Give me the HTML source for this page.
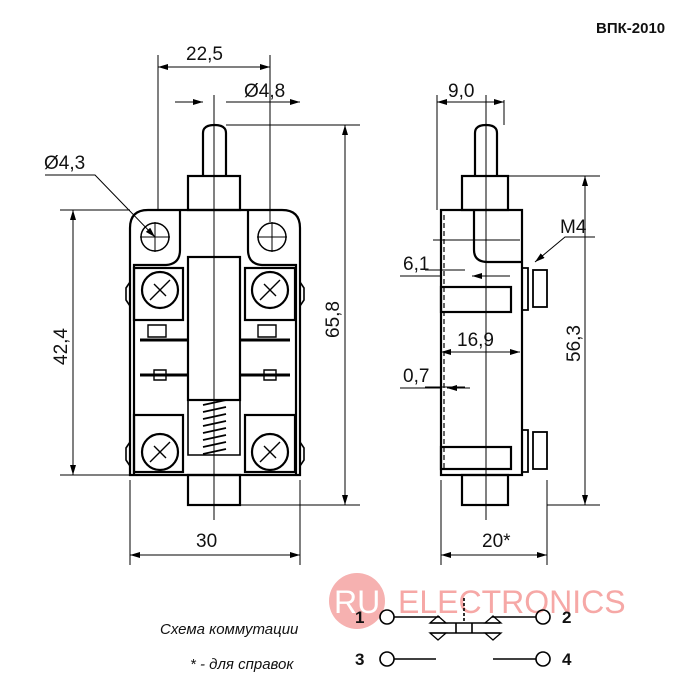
<!DOCTYPE html>
<html><head><meta charset="utf-8"><style>
body{margin:0;background:#fff}
svg{display:block}
text{font-family:"Liberation Sans",sans-serif;fill:#111}
</style></head><body>
<svg width="700" height="700" viewBox="0 0 700 700" xmlns="http://www.w3.org/2000/svg">
<defs>
<marker id="a" viewBox="0 0 10 6" refX="10" refY="3" markerWidth="10" markerHeight="6" orient="auto-start-reverse"><path d="M0,0L10,3L0,6z" fill="#000"/></marker>
</defs>
<text x="596" y="33" font-size="15" font-weight="bold">ВПК-2010</text>

<!-- watermark -->
<circle cx="357" cy="601" r="28" fill="#f6b1b0"/>
<text x="334" y="613" font-size="32" style="fill:#fff">RU</text>
<text x="398" y="613" font-size="32" style="fill:#f6a8a6">ELECTRONICS</text>

<g stroke="#000" fill="none" stroke-width="2.2">
<!-- FRONT VIEW -->
<path d="M203,176V133q0-8 11.5-8q11.5 0 11.5 8V176"/>
<rect x="188" y="176" width="52" height="34"/>
<path d="M130,475V228q0-18 18-18H282q18 0 18 18V475Z"/>
<path d="M180,210V250q0 14-14 15H134V475M248,210V250q0 14 14 15H296V475"/>
<rect x="188" y="257" width="52" height="143"/>
<rect x="134" y="268" width="49" height="52"/>
<rect x="245" y="268" width="50" height="52"/>
<rect x="134" y="415" width="49" height="57"/>
<rect x="245" y="415" width="50" height="57"/>
<circle cx="160" cy="290" r="18"/><circle cx="270" cy="290" r="18"/>
<circle cx="160" cy="452" r="18"/><circle cx="270" cy="452" r="18"/>
<path d="M150,300L170,280M260,300L280,280M150,462L170,442M260,462L280,442" stroke-width="1.4"/>
<path d="M154,284L166,296M264,284L276,296M154,446L166,458M264,446L276,458" stroke-width="1.4"/>
<path d="M140,340H188M240,340H290M140,375H188M240,375H290" stroke-width="3"/>
<path d="M148,325h18v12h-18zM258,325h18v12h-18zM154,370h12v10h-12zM264,370h12v10h-12z" stroke-width="1.4"/>
<path d="M126,288l4,-6v24l-4,-6zM304,288l-4,-6v24l4,-6zM126,448l4,-6v24l-4,-6zM304,448l-4,-6v24l4,-6z" stroke-width="1.6"/>
<path d="M188,400V455H240V400" stroke-width="1.6"/>
<path d="M203,405l23,-5M203,412l23,-5M203,419l23,-5M203,426l23,-5M203,433l23,-5M203,440l23,-5M203,447l23,-5M203,454l23,-5" stroke-width="1.8"/>
<rect x="188" y="475" width="52" height="30"/>
<circle cx="155" cy="237" r="14" stroke-width="1.5"/><circle cx="272" cy="237" r="14" stroke-width="1.5"/>

<!-- SIDE VIEW -->
<path d="M475,176V133q0-8 11-8q11 0 11 8V176"/>
<rect x="462" y="176" width="46" height="34"/>
<rect x="441" y="210" width="81" height="265"/>
<path d="M474,210V250q0 12 14 12H522"/>
<rect x="441" y="287" width="70" height="25"/>
<rect x="441" y="447" width="70" height="22"/>
<path d="M521,268h7v42h-7M521,430h7v42h-7" stroke-width="1.8"/>
<rect x="533" y="270" width="14" height="37" stroke-width="1.8"/>
<rect x="533" y="432" width="14" height="37" stroke-width="1.8"/>
<rect x="462" y="475" width="46" height="30"/>
<path d="M444,215V470" stroke-dasharray="5,3" stroke-width="1.2"/>
</g>

<!-- centre & extension lines -->
<g stroke="#000" stroke-width="1" fill="none">
<path d="M214,95V520M486,95V520"/>
<path d="M140,237H170M155,222V252M257,237H287M272,222V252" />
<path d="M158,55V210M270,55V222M130,480V565M300,480V565M441,480V565M547,480V565"/>
<path d="M60,210H130M60,475H130M240,505H360M226,125H360M504,125V100M437,95V210"/>
<path d="M508,176H600M547,505H600M433,240H520"/>
<path d="M425,270h40M425,387h40"/>
<!-- dims -->
<path d="M158,67H270" marker-start="url(#a)" marker-end="url(#a)"/>
<path d="M175,102H203M226,102H300" marker-end="url(#a)"/>
<path d="M178,102H203" marker-end="url(#a)"/>
<path d="M73,210V475" marker-start="url(#a)" marker-end="url(#a)"/>
<path d="M345,125V505" marker-start="url(#a)" marker-end="url(#a)"/>
<path d="M130,555H300" marker-start="url(#a)" marker-end="url(#a)"/>
<path d="M437,102H504" marker-start="url(#a)" marker-end="url(#a)"/>
<path d="M585,176V505" marker-start="url(#a)" marker-end="url(#a)"/>
<path d="M441,555H547" marker-start="url(#a)" marker-end="url(#a)"/>
<path d="M441,352H520" marker-start="url(#a)" marker-end="url(#a)"/>
<path d="M400,276H441M510,276H472" marker-end="url(#a)"/>
<path d="M400,388H441M470,388H447" marker-end="url(#a)"/>
<path d="M45,175H95L155,237" marker-end="url(#a)"/>
<path d="M595,237H565L535,262" marker-end="url(#a)"/>
<path d="M226,102H240" />
</g>

<g font-size="19">
<text x="186" y="60">22,5</text>
<text x="244" y="97">Ø4,8</text>
<text x="44" y="169">Ø4,3</text>
<text x="196" y="547">30</text>
<text x="448" y="97">9,0</text>
<text x="560" y="233">M4</text>
<text x="403" y="270">6,1</text>
<text x="457" y="346">16,9</text>
<text x="403" y="382">0,7</text>
<text x="482" y="547">20*</text>
<text transform="translate(67,365) rotate(-90)">42,4</text>
<text transform="translate(339,338) rotate(-90)">65,8</text>
<text transform="translate(580,362) rotate(-90)">56,3</text>
</g>

<!-- switch schematic -->
<g font-size="15" font-style="italic">
<text x="160" y="634">Схема коммутации</text>
<text x="190" y="669">* - для справок</text>
</g>
<g font-size="17" font-weight="bold">
<text x="355" y="623">1</text><text x="562" y="623">2</text>
<text x="355" y="665">3</text><text x="562" y="665">4</text>
</g>
<g stroke="#000" stroke-width="1.6" fill="none">
<circle cx="387" cy="617" r="7"/><circle cx="543" cy="617" r="7"/>
<circle cx="387" cy="659" r="7"/><circle cx="543" cy="659" r="7"/>
<path d="M394,617H440M536,617H492M394,659H436M493,659H536"/>
<path d="M430,623H500M430,633H500M456,623V633M472,623V633"/>
<path d="M464,598V621" stroke-dasharray="3,2"/>
<path d="M430,623l8,-7l8,7zM485,623l8,-7l8,7zM430,633l8,7l8,-7zM485,633l8,7l8,-7z" stroke-width="1.3"/>
</g>
</svg>
</body></html>
